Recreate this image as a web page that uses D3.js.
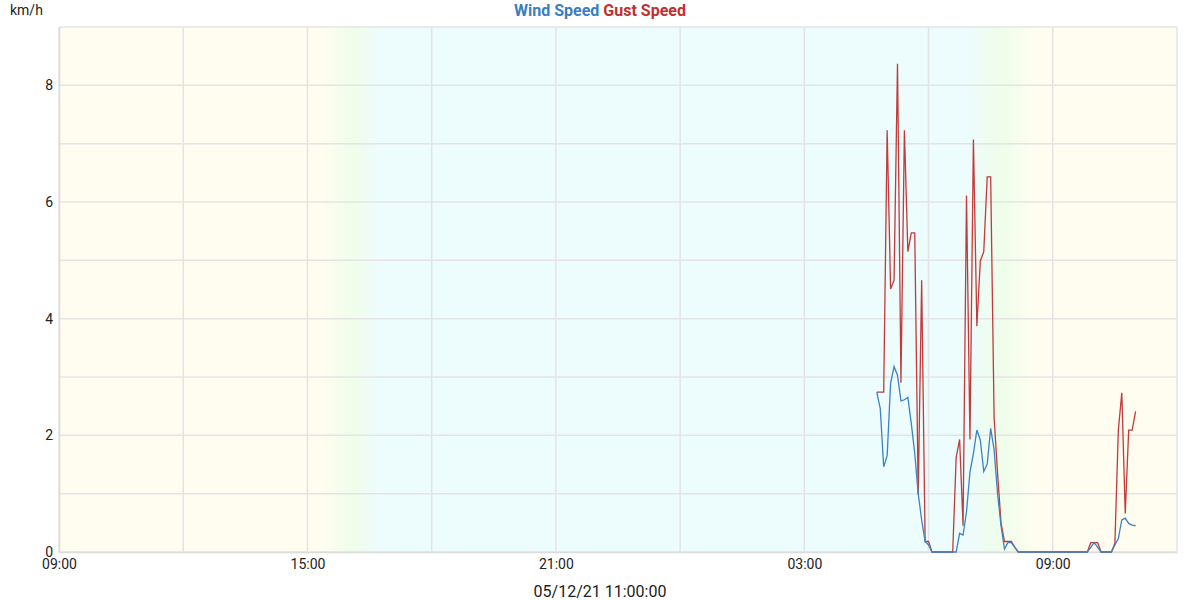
<!DOCTYPE html>
<html>
<head>
<meta charset="utf-8">
<script src="https://cdn.jsdelivr.net/npm/d3@7"></script>
<style>
  body { margin: 0; background: #fff; }
  svg text { font-family: Roboto, "Noto Sans", sans-serif; }
</style>
</head>
<body>
<div id="chart"></div>
<script>
// readings every 5 minutes from 04:45 to 11:00 on 12 May
var startTime = "2021-05-12T04:45:00";
var stepMinutes = 5;

var windSpeed = [
  2.74, 2.46, 1.46, 1.65, 2.89, 3.18, 3.03, 2.59, 2.61, 2.65,
  2.2, 1.69, 1.0, 0.55, 0.18, 0.12, 0, 0, 0, 0,
  0, 0, 0, 0, 0.32, 0.29, 0.69, 1.37, 1.69, 2.09,
  1.92, 1.38, 1.51, 2.12, 1.75, 1.0, 0.45, 0.05, 0.16, 0.16,
  0.08, 0, 0, 0, 0, 0, 0, 0, 0, 0,
  0, 0, 0, 0, 0, 0, 0, 0, 0, 0,
  0, 0, 0.08, 0.16, 0.08, 0, 0, 0, 0, 0.12,
  0.23, 0.55, 0.58, 0.49, 0.46, 0.45
];

var gustSpeed = [
  2.74, 2.74, 2.74, 7.23, 4.51, 4.66, 8.37, 2.9, 7.23, 5.15,
  5.47, 5.47, 0.98, 4.66, 0.18, 0.18, 0, 0, 0, 0,
  0, 0, 0, 1.62, 1.93, 0.45, 6.11, 1.93, 7.07, 3.87,
  4.99, 5.15, 6.43, 6.43, 2.3, 1.35, 0.5, 0.18, 0.18, 0.18,
  0.08, 0, 0, 0, 0, 0, 0, 0, 0, 0,
  0, 0, 0, 0, 0, 0, 0, 0, 0, 0,
  0, 0, 0.16, 0.16, 0.16, 0, 0, 0, 0, 0.15,
  2.09, 2.73, 0.66, 2.09, 2.09, 2.41
];

var xDomain = ["2021-05-11T09:00:00", "2021-05-12T12:00:00"];
var xTickLabels = ["2021-05-11T09:00:00", "2021-05-11T15:00:00", "2021-05-11T21:00:00",
                   "2021-05-12T03:00:00", "2021-05-12T09:00:00"];
var yTickLabels = [0, 2, 4, 6, 8];

// day / night shading: [time, colour]
var shadeTimes = ["2021-05-11T15:20:00", "2021-05-11T16:10:00", "2021-05-11T16:42:00",
                  "2021-05-12T07:00:00", "2021-05-12T07:45:00", "2021-05-12T08:32:00"];
var shadeColors = ["#fffdf0", "#effdea", "#edfcfc", "#edfcfc", "#effdea", "#fffdf0"];

var width = 1200, height = 600;
var margin = {top: 27, right: 23, bottom: 48, left: 59};
var w = width - margin.left - margin.right;
var h = height - margin.top - margin.bottom;

var parse = d3.isoParse;
var t0 = parse(startTime);
var data = windSpeed.map(function(v, i) {
  return {t: new Date(t0.getTime() + i * stepMinutes * 60000), wind: v, gust: gustSpeed[i]};
});

var x = d3.scaleTime().domain(xDomain.map(parse)).range([0, w]);
var y = d3.scaleLinear().domain([0, 9]).range([h, 0]);

var svg = d3.select("#chart").append("svg")
  .attr("width", width)
  .attr("height", height);

var defs = svg.append("defs");
var grad = defs.append("linearGradient")
  .attr("id", "shade")
  .attr("gradientUnits", "userSpaceOnUse")
  .attr("x1", 0).attr("x2", w).attr("y1", 0).attr("y2", 0);
grad.selectAll("stop")
  .data(shadeTimes)
  .enter().append("stop")
  .attr("offset", function(d) { return x(parse(d)) / w; })
  .attr("stop-color", function(d, i) { return shadeColors[i]; });

var g = svg.append("g")
  .attr("transform", "translate(" + margin.left + "," + margin.top + ")");

g.append("rect")
  .attr("width", w)
  .attr("height", h)
  .attr("fill", "url(#shade)");

// grid
g.append("g").selectAll("line")
  .data(d3.range(0, 10))
  .enter().append("line")
  .attr("x1", 0).attr("x2", w)
  .attr("y1", function(d) { return y(d); })
  .attr("y2", function(d) { return y(d); })
  .attr("stroke", "#e4e4e4")
  .attr("stroke-width", 1.5);

var dom = x.domain();
g.append("g").selectAll("line")
  .data(d3.timeHour.range(dom[0], dom[1], 3).concat([dom[1]]))
  .enter().append("line")
  .attr("x1", function(d) { return x(d); })
  .attr("x2", function(d) { return x(d); })
  .attr("y1", 0).attr("y2", h)
  .attr("stroke", "#e4e4e4")
  .attr("stroke-width", 1.5);

// axes
var fmt = d3.timeFormat("%H:%M");
var xAxis = g.append("g")
  .attr("transform", "translate(0," + h + ")")
  .call(d3.axisBottom(x).tickValues(xTickLabels.map(parse)).tickFormat(fmt).tickSize(0).tickPadding(6));
xAxis.select(".domain").attr("stroke", "#dcdcdc").attr("stroke-width", 1.5);
xAxis.selectAll("text").attr("font-size", 14).attr("fill", "#222").attr("dy", "0.75em");

var yAxis = g.append("g")
  .call(d3.axisLeft(y).tickValues(yTickLabels).tickSize(0).tickPadding(6));
yAxis.select(".domain").attr("stroke", "#dcdcdc").attr("stroke-width", 1.5);
yAxis.selectAll("text").attr("font-size", 14).attr("fill", "#222");

// lines
var gustLine = d3.line()
  .x(function(d) { return x(d.t); })
  .y(function(d) { return y(d.gust); });
var windLine = d3.line()
  .x(function(d) { return x(d.t); })
  .y(function(d) { return y(d.wind); });

g.append("path")
  .datum(data)
  .attr("fill", "none")
  .attr("stroke", "#c23a3a")
  .attr("stroke-width", 1.3)
  .attr("d", gustLine);

g.append("path")
  .datum(data)
  .attr("fill", "none")
  .attr("stroke", "#3b83c3")
  .attr("stroke-width", 1.3)
  .attr("d", windLine);

// titles
svg.append("text")
  .attr("x", 10).attr("y", 15)
  .attr("font-size", 14).attr("fill", "#222")
  .text("km/h");

var title = svg.append("text")
  .attr("x", width / 2).attr("y", 16)
  .attr("text-anchor", "middle")
  .attr("font-size", 16).attr("font-weight", "bold");
title.append("tspan").attr("fill", "#3a7ebf").text("Wind Speed ");
title.append("tspan").attr("fill", "#c0302e").text("Gust Speed");

svg.append("text")
  .attr("x", width / 2).attr("y", 597)
  .attr("text-anchor", "middle")
  .attr("font-size", 16).attr("fill", "#222")
  .text("05/12/21 11:00:00");
</script>
</body>
</html>
